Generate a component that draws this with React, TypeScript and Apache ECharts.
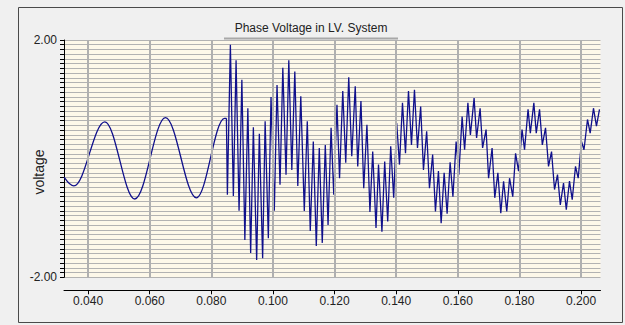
import React, { useEffect, useRef } from "react";
import * as echarts from "echarts";

// Pre-fault 50 Hz wave: extremes (time s, voltage)
const preFaultTime = [0.03222, 0.0354, 0.04545, 0.05517, 0.06512, 0.07517, 0.0843, 0.0849];
const preFaultVolt = [-0.31, -0.46, 0.62, -0.68, 0.69, -0.66, 0.68, 0.68];

// Transient after switching: successive peaks / troughs
const transientTime = [
  0.0849, 0.08522, 0.08619, 0.08716, 0.08804, 0.08901, 0.08992, 0.09089, 0.09186, 0.09277,
  0.09365, 0.09472, 0.09559, 0.09666, 0.09747, 0.09851, 0.09938, 0.10045, 0.10133, 0.1023,
  0.10321, 0.10425, 0.10515, 0.10613, 0.1071, 0.10807, 0.10904, 0.11018, 0.11115, 0.11212,
  0.1131, 0.11407, 0.11504, 0.11601, 0.11699, 0.11789, 0.11887, 0.11974, 0.12078, 0.12162,
  0.12266, 0.12363, 0.1246, 0.12558, 0.12671, 0.12752, 0.12856, 0.12947, 0.1305, 0.13148,
  0.13238, 0.13345, 0.13426, 0.13537, 0.13627, 0.13725, 0.13822, 0.13919, 0.14016, 0.14107,
  0.14204, 0.14302, 0.14399, 0.14496, 0.14593, 0.14691, 0.14794, 0.14885, 0.14989, 0.1508,
  0.15183, 0.15274, 0.15371, 0.15459, 0.15556, 0.15653, 0.1575, 0.15841, 0.15945, 0.16032,
  0.16139, 0.1622, 0.16327, 0.16408, 0.16528, 0.16609, 0.16723, 0.16804, 0.16917, 0.16998,
  0.17112, 0.17199, 0.173, 0.17394, 0.17485, 0.17588, 0.17679, 0.17783, 0.17874, 0.17971,
  0.18084, 0.18165, 0.18279, 0.18353, 0.18467, 0.18545, 0.18652, 0.18742, 0.18846, 0.18943,
  0.19041, 0.19138, 0.19235, 0.19326, 0.1943, 0.1952, 0.19624, 0.19712, 0.19819, 0.19906,
  0.20013, 0.20094, 0.20208, 0.20295, 0.20402, 0.20499, 0.20597,
];
const transientVolt = [
  0.68, -0.61, 1.92, -0.63, 1.66, -0.88, 1.33, -1.37, 0.85, -1.59,
  0.53, -1.71, 0.42, -1.68, 0.63, -1.34, 1.04, -0.88, 1.24, -0.44,
  1.53, -0.27, 1.66, -0.19, 1.47, -0.46, 1.05, -0.88, 0.63, -1.22,
  0.29, -1.47, 0.18, -1.42, 0.23, -1.12, 0.52, -0.61, 0.91, -0.33,
  1.14, -0.07, 1.37, 0.04, 1.22, -0.13, 0.97, -0.5, 0.57, -0.9,
  0.12, -1.17, -0.1, -1.23, -0.05, -1.06, 0.21, -0.66, 0.6, -0.1,
  0.94, 0.09, 1.14, 0.23, 1.16, 0.18, 0.88, -0.19, 0.46, -0.5,
  0.07, -0.89, -0.21, -1.09, -0.24, -0.93, -0.06, -0.64, 0.29, -0.27,
  0.71, 0.15, 0.94, 0.4, 1.02, 0.35, 0.85, 0.18, 0.49, -0.33,
  0.18, -0.66, -0.24, -0.92, -0.38, -0.89, -0.33, -0.64, 0.09, -0.21,
  0.49, 0.15, 0.83, 0.43, 0.94, 0.43, 0.83, 0.23, 0.52, -0.13,
  0.12, -0.52, -0.27, -0.78, -0.41, -0.86, -0.38, -0.69, -0.13, -0.33,
  0.29, 0.15, 0.66, 0.43, 0.85, 0.55, 0.83,
];

const xTickValues = [0.04, 0.06, 0.08, 0.1, 0.12, 0.14, 0.16, 0.18, 0.2];
const yLabelValues = [-2, 2];
const xMin = 0.0322;
const xMax = 0.2063;
const yMin = -2;
const yMax = 2;
const yStep = 0.08;

const FONT = "'Liberation Sans', Arial, sans-serif";
const NAVY = "#10108c";

export default function App() {
  const ref = useRef<HTMLDivElement>(null);

  useEffect(() => {
    if (!ref.current) return;
    const chart = echarts.init(ref.current, undefined, { renderer: "svg" });

    const preData = preFaultTime.map((t, i) => [t, preFaultVolt[i]]);
    const trData = transientTime.map((t, i) => [t, transientVolt[i]]);

    chart.setOption({
      animation: false,
      backgroundColor: "#f0f0f0",
      grid: {
        left: 64,
        top: 40,
        right: 24.5,
        bottom: 47.7,
        show: true,
        backgroundColor: "#fdf8e9",
        borderWidth: 0,
      },
      xAxis: {
        type: "value",
        min: xMin,
        max: xMax,
        offset: 13,
        axisLine: { show: true, onZero: false, lineStyle: { color: "#000", width: 1 } },
        axisTick: { show: true, customValues: xTickValues, length: 4, lineStyle: { color: "#000" } },
        axisLabel: {
          customValues: xTickValues,
          formatter: (v: number) => v.toFixed(3),
          fontSize: 12,
          fontFamily: FONT,
          color: "#222",
          margin: 5,
        },
        splitLine: { show: false },
      },
      yAxis: {
        type: "value",
        min: yMin,
        max: yMax,
        interval: yStep,
        axisLine: { show: true, onZero: false, lineStyle: { color: "#000", width: 1 } },
        axisTick: { show: true, length: 4, lineStyle: { color: "#000" } },
        axisLabel: {
          customValues: yLabelValues,
          formatter: (v: number) => v.toFixed(2),
          fontSize: 12,
          fontFamily: FONT,
          color: "#222",
          margin: 7,
        },
        splitLine: { show: true, lineStyle: { color: "#b2b2b2", width: 1 } },
      },
      series: [
        {
          type: "line",
          data: [],
          z: 1,
          silent: true,
          markLine: {
            silent: true,
            symbol: ["none", "none"],
            label: { show: false },
            emphasis: { disabled: true },
            lineStyle: { color: "#b0b0b0", width: 2, type: "solid" },
            data: xTickValues.map((v) => ({ xAxis: v })),
          },
        },
        {
          type: "line",
          data: preData,
          smooth: 0.36,
          smoothMonotone: "x",
          showSymbol: false,
          silent: true,
          z: 3,
          lineStyle: { color: NAVY, width: 1.3 },
        },
        {
          type: "line",
          data: trData,
          showSymbol: false,
          silent: true,
          z: 3,
          lineStyle: { color: NAVY, width: 1.3 },
        },
      ],
      graphic: [
        {
          type: "rect",
          silent: true,
          shape: { x: 18.5, y: 7.5, width: 604, height: 315 },
          style: { fill: "none", stroke: "#4a4a4a", lineWidth: 1 },
        },
        {
          type: "text",
          x: 311,
          y: 28,
          silent: true,
          style: {
            text: "Phase Voltage in LV. System",
            fontSize: 12,
            fontFamily: FONT,
            fill: "#222",
            align: "center",
            verticalAlign: "middle",
          },
        },
        {
          type: "line",
          silent: true,
          shape: { x1: 224, y1: 38.5, x2: 398, y2: 38.5 },
          style: { stroke: "#a8a8a8", lineWidth: 2 },
        },
        {
          type: "text",
          x: 39,
          y: 172,
          rotation: Math.PI / 2,
          silent: true,
          style: {
            text: "voltage",
            fontSize: 14,
            fontFamily: FONT,
            fill: "#222",
            align: "center",
            verticalAlign: "middle",
          },
        },
      ],
    });

    return () => chart.dispose();
  }, []);

  return (
    <div
      ref={ref}
      style={{ position: "absolute", left: 0, top: 0, width: 625, height: 325 }}
    />
  );
}
